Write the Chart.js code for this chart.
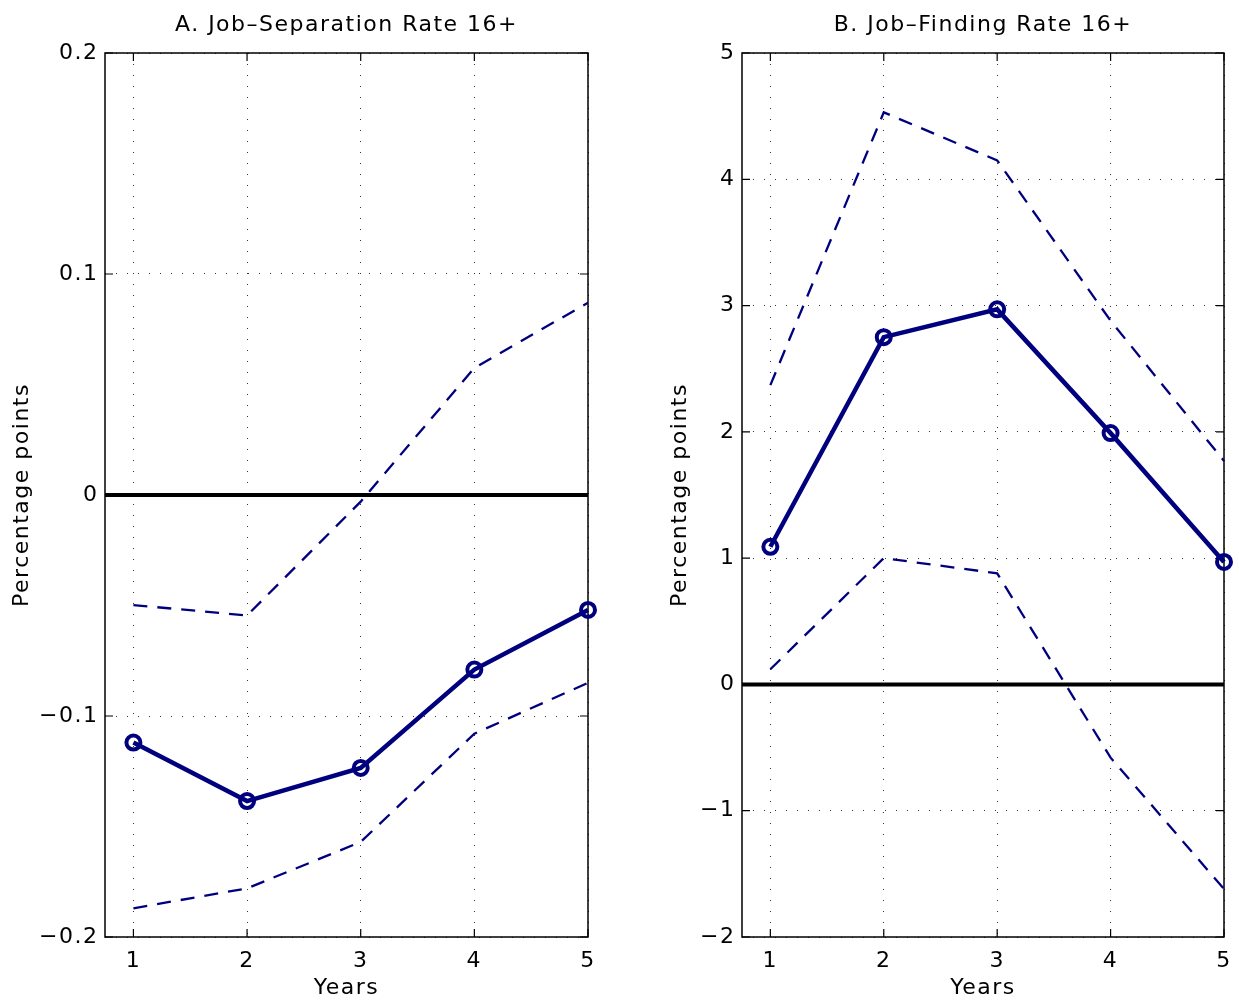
<!DOCTYPE html>
<html>
<head>
<meta charset="utf-8">
<script src="https://cdn.jsdelivr.net/npm/chart.js@4.4.1/dist/chart.umd.min.js"></script>
<style>
  html, body { margin: 0; padding: 0; background: #fff; }
  #wrap { position: relative; width: 1239px; height: 1002px; }
  canvas { position: absolute; top: 0; }
  #sepCanvas { left: 0; }
  #findCanvas { left: 620px; }
</style>
</head>
<body>
<div id="wrap">
  <canvas id="sepCanvas" width="620" height="1002"></canvas>
  <canvas id="findCanvas" width="619" height="1002"></canvas>
</div>
<script>
// data
const years = [1, 2, 3, 4, 5]
const xTicks = [1, 2, 3, 4, 5]

const sepEstimate = [-0.112, -0.1385, -0.1235, -0.079, -0.052]
const sepUpper = [-0.0498, -0.0545, -0.003, 0.0575, 0.087]
const sepLower = [-0.187, -0.178, -0.157, -0.108, -0.085]
const sepTicks = [-0.2, -0.1, 0, 0.1, 0.2]

const findEstimate = [1.09, 2.75, 2.97, 1.99, 0.97]
const findUpper = [2.37, 4.53, 4.15, 2.88, 1.77]
const findLower = [0.12, 1.0, 0.88, -0.58, -1.62]
const findTicks = [-2, -1, 0, 1, 2, 3, 4, 5]

const navy = '#00007f'
const fontFamily = '"DejaVu Sans", sans-serif'
const spacing = '1.5px'

function pts(ys) {
    return years.map((x, i) => ({ x: x, y: ys[i] }))
}

function fmt(v) {
    return v < 0 ? '\u2212' + String(Math.abs(v)) : String(v)
}

// the reference font runs wider, so space the letters a bit
const spacingPlugin = {
    id: 'spacing',
    afterInit(chart) {
        chart.ctx.letterSpacing = spacing
    }
}

// box round the plot with inward ticks, like the matlab axes, and the title over the plot
const boxPlugin = {
    id: 'box',
    beforeDatasetsDraw(chart) {
        const { ctx, chartArea: a, scales } = chart
        const tl = 8
        ctx.save()
        ctx.strokeStyle = '#000'
        ctx.lineWidth = 1.5
        ctx.strokeRect(a.left, a.top, a.right - a.left, a.bottom - a.top)
        ctx.lineWidth = 1.2
        ctx.beginPath()
        scales.x.ticks.forEach(t => {
            const px = scales.x.getPixelForValue(t.value)
            ctx.moveTo(px, a.bottom); ctx.lineTo(px, a.bottom - tl)
            ctx.moveTo(px, a.top); ctx.lineTo(px, a.top + tl)
        })
        scales.y.ticks.forEach(t => {
            const py = scales.y.getPixelForValue(t.value)
            ctx.moveTo(a.left, py); ctx.lineTo(a.left + tl, py)
            ctx.moveTo(a.right, py); ctx.lineTo(a.right - tl, py)
        })
        ctx.stroke()

        ctx.fillStyle = '#000'
        ctx.font = '22px ' + fontFamily
        ctx.textAlign = 'center'
        ctx.textBaseline = 'middle'
        ctx.fillText(chart.options.plugins.box.title, (a.left + a.right) / 2, 25)
        ctx.restore()
    }
}

function makeChart(id, opts) {
    const zeroLine = [{ x: 0.75, y: 0 }, { x: 5, y: 0 }]
    return new Chart(document.getElementById(id), {
        type: 'line',
        data: {
            datasets: [
                {
                    data: pts(opts.estimate),
                    borderColor: navy,
                    borderWidth: 4.5,
                    pointRadius: 7,
                    pointBorderWidth: 4,
                    pointBackgroundColor: 'rgba(0,0,0,0)',
                    pointBorderColor: navy,
                    clip: false,
                    order: 1
                },
                {
                    data: pts(opts.upper),
                    borderColor: navy,
                    borderWidth: 2.3,
                    borderDash: [14, 10],
                    pointRadius: 0,
                    order: 2
                },
                {
                    data: pts(opts.lower),
                    borderColor: navy,
                    borderWidth: 2.3,
                    borderDash: [14, 10],
                    pointRadius: 0,
                    order: 2
                },
                {
                    data: zeroLine,
                    borderColor: '#000',
                    borderWidth: 4,
                    pointRadius: 0,
                    order: 3
                }
            ]
        },
        options: {
            responsive: false,
            animation: false,
            devicePixelRatio: 1,
            layout: { padding: { left: 0, right: opts.padRight, top: 53, bottom: 0 } },
            plugins: {
                legend: { display: false },
                tooltip: { enabled: false },
                title: { display: false },
                box: { title: opts.title }
            },
            scales: {
                x: {
                    type: 'linear',
                    min: 0.75,
                    max: 5,
                    afterBuildTicks: s => { s.ticks = xTicks.map(v => ({ value: v })) },
                    afterFit: s => {
                        s.height = 65
                        s.paddingLeft = 0
                        s.paddingRight = 0
                    },
                    grid: { color: '#333', lineWidth: 1, drawTicks: false },
                    border: { display: false, dash: [1, 10] },
                    ticks: {
                        color: '#000',
                        padding: 11,
                        maxRotation: 0,
                        font: { family: fontFamily, size: 22 },
                        callback: v => fmt(v)
                    },
                    title: {
                        display: true,
                        text: 'Years',
                        color: '#000',
                        font: { family: fontFamily, size: 22 },
                        padding: { top: 0, bottom: 1 }
                    }
                },
                y: {
                    type: 'linear',
                    min: opts.yMin,
                    max: opts.yMax,
                    afterBuildTicks: s => { s.ticks = opts.yTicks.map(v => ({ value: v })) },
                    afterFit: s => {
                        s.width = opts.yWidth
                        s.paddingTop = 0
                        s.paddingBottom = 0
                    },
                    grid: { color: '#333', lineWidth: 1, drawTicks: false },
                    border: { display: false, dash: [1, 10] },
                    ticks: {
                        color: '#000',
                        padding: 6.5,
                        font: { family: fontFamily, size: 22 },
                        callback: v => fmt(v)
                    },
                    title: {
                        display: true,
                        text: 'Percentage points',
                        color: '#000',
                        font: { family: fontFamily, size: 22 },
                        padding: { top: opts.yTitlePad, bottom: 0 }
                    }
                }
            }
        },
        plugins: [spacingPlugin, boxPlugin]
    })
}

makeChart('sepCanvas', {
    title: 'A. Job\u2013Separation Rate 16+',
    estimate: sepEstimate, upper: sepUpper, lower: sepLower,
    yMin: -0.2, yMax: 0.2, yTicks: sepTicks,
    yWidth: 105, padRight: 32, yTitlePad: 9
})

makeChart('findCanvas', {
    title: 'B. Job\u2013Finding Rate 16+',
    estimate: findEstimate, upper: findUpper, lower: findLower,
    yMin: -2, yMax: 5, yTicks: findTicks,
    yWidth: 122, padRight: 15, yTitlePad: 47
})
</script>
</body>
</html>
